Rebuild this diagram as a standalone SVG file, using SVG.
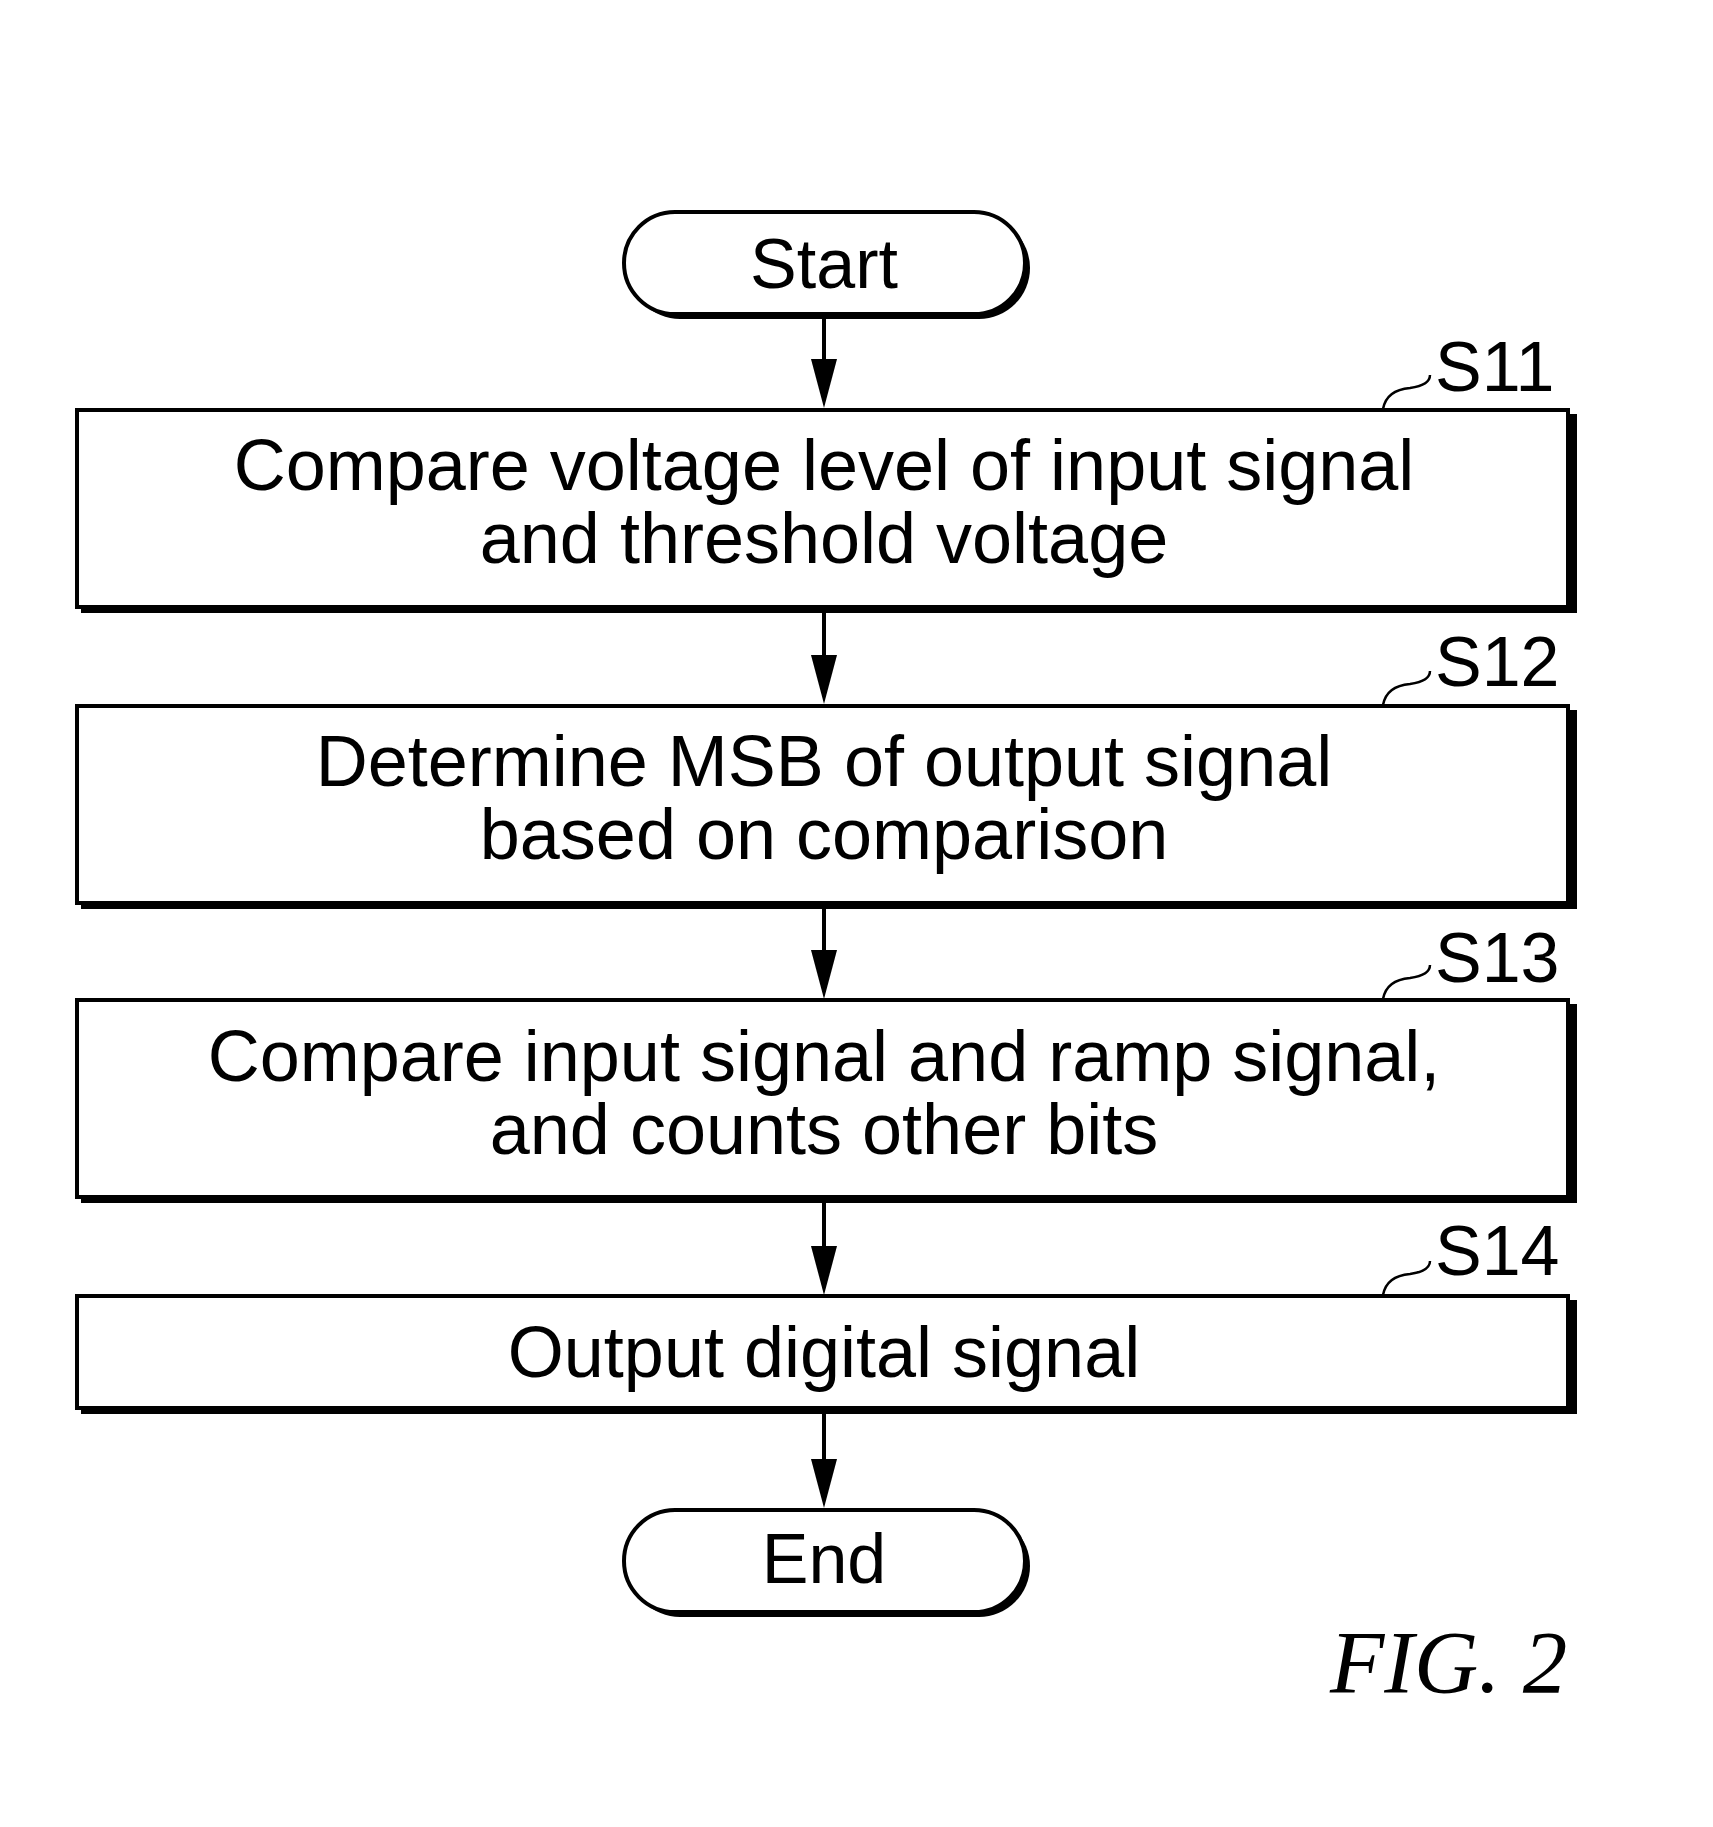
<svg xmlns="http://www.w3.org/2000/svg" width="1713" height="1827" viewBox="0 0 1713 1827">
<style>
.bg{fill:#fff}
.sh{fill:#000}
.bx{fill:#fff;stroke:#000;stroke-width:4}
.t{font-family:"Liberation Sans",Arial,sans-serif;font-size:72px;fill:#000;text-anchor:middle}
.tt{font-family:"Liberation Sans",Arial,sans-serif;font-size:70px;fill:#000;text-anchor:middle}
.lb{font-family:"Liberation Sans",Arial,sans-serif;font-size:70px;fill:#000}
.ld{fill:none;stroke:#000;stroke-width:2.5}
.cn{stroke:#000;stroke-width:4;fill:none;marker-end:url(#ah)}
.fig{font-family:"Liberation Serif","Times New Roman",serif;font-style:italic;font-size:89px;fill:#000}
</style>
<defs>
<marker id="ah" markerUnits="userSpaceOnUse" markerWidth="50" markerHeight="28" viewBox="0 0 50 28" refX="29" refY="14" orient="auto">
<path d="M0,1 L49,14 L0,27 z" fill="#000"/>
</marker>
</defs>
<rect class="bg" x="0" y="0" width="1713" height="1827"/>

<g id="start">
<rect class="sh" x="629" y="217" width="401" height="102" rx="51"/>
<rect class="bx" x="624" y="212" width="401" height="102" rx="51" stroke-width="3.5"/>
<text class="tt" x="824" y="288">Start</text>
</g>

<g id="s11">
<rect class="sh" x="81" y="414" width="1496" height="199"/>
<rect class="bx" x="77" y="410" width="1491" height="197"/>
<text class="t" x="824" y="490">Compare voltage level of input signal</text>
<text class="t" x="824" y="563">and threshold voltage</text>
<path class="ld" d="M1383,409 C1386,393 1398,389 1410,388 C1424,386 1430,382 1430,375"/>
<text class="lb" x="1435" y="391">S11</text>
</g>

<g id="s12">
<rect class="sh" x="81" y="710" width="1496" height="199"/>
<rect class="bx" x="77" y="706" width="1491" height="197"/>
<text class="t" x="824" y="786">Determine MSB of output signal</text>
<text class="t" x="824" y="859">based on comparison</text>
<path class="ld" d="M1383,705 C1386,689 1398,685 1410,684 C1424,682 1430,678 1430,671"/>
<text class="lb" x="1435" y="686">S12</text>
</g>

<g id="s13">
<rect class="sh" x="81" y="1004" width="1496" height="199"/>
<rect class="bx" x="77" y="1000" width="1491" height="197"/>
<text class="t" x="824" y="1081">Compare input signal and ramp signal,</text>
<text class="t" x="824" y="1154">and counts other bits</text>
<path class="ld" d="M1383,999 C1386,983 1398,979 1410,978 C1424,976 1430,972 1430,965"/>
<text class="lb" x="1435" y="982">S13</text>
</g>

<g id="s14">
<rect class="sh" x="81" y="1300" width="1496" height="114"/>
<rect class="bx" x="77" y="1296" width="1491" height="112"/>
<text class="t" x="824" y="1377">Output digital signal</text>
<path class="ld" d="M1383,1295 C1386,1279 1398,1275 1410,1274 C1424,1272 1430,1268 1430,1261"/>
<text class="lb" x="1435" y="1275">S14</text>
</g>

<g id="end">
<rect class="sh" x="629" y="1515" width="401" height="102" rx="51"/>
<rect class="bx" x="624" y="1510" width="401" height="102" rx="51" stroke-width="3.5"/>
<text class="tt" x="824" y="1583">End</text>
</g>

<g id="connectors">
<path class="cn" d="M824,319 V388"/>
<path class="cn" d="M824,613 V684"/>
<path class="cn" d="M824,909 V979"/>
<path class="cn" d="M824,1203 V1275"/>
<path class="cn" d="M824,1414 V1488"/>
</g>

<text class="fig" x="1330" y="1692">FIG. 2</text>
</svg>
